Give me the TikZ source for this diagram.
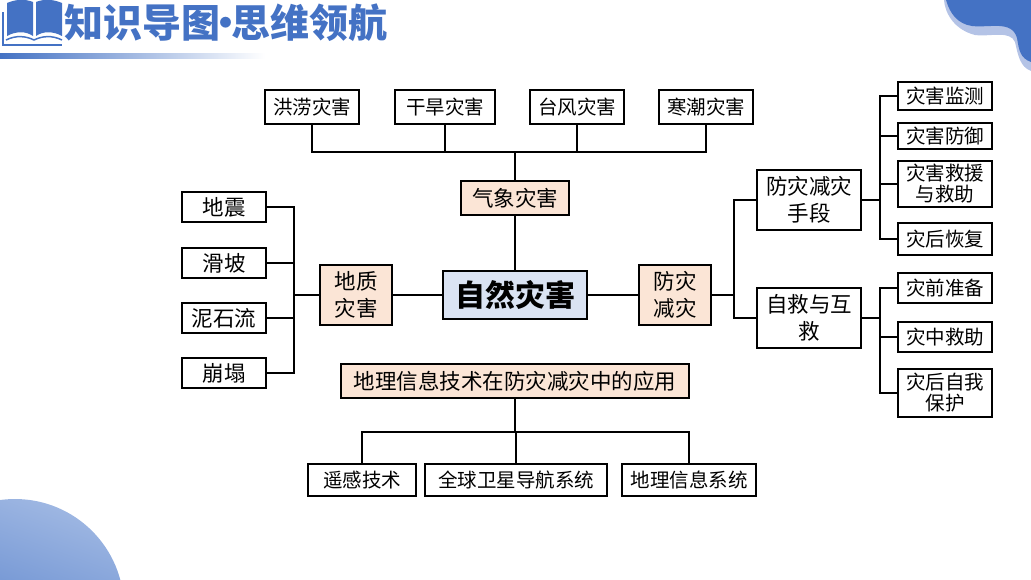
\documentclass[tikz,border=0pt]{standalone}
\usepackage{fontspec}
\setmainfont{Noto Sans CJK SC}
\definecolor{blueA}{HTML}{4472C4}
\definecolor{blueB}{HTML}{B4C3E6}
\definecolor{blueC}{HTML}{9DB6E2}
\definecolor{peach}{HTML}{FBE5D6}
\definecolor{paleblue}{HTML}{DAE3F3}
\tikzset{
	leaf/.style={draw, line width=2pt, fill=white, inner sep=0pt, align=center, font=\fontsize{19.5}{21}\selectfont},
	midbox/.style={leaf, font=\fontsize{21.5}{27}\selectfont},
	peachbox/.style={midbox, fill=peach},
	wire/.style={line width=2pt}
}
\begin{document}
\begin{tikzpicture}[x=1pt, y=-1pt]
	\useasboundingbox (0, 0) rectangle (1031, 579);
	% fundo
	\fill[blueB] (944, 0) .. controls (945, 14) and (955, 30) .. (975, 35) .. controls (990, 37) and (1010, 30) .. (1015, 42) .. controls (1018, 55) and (1020, 67) .. (1031, 71) -- (1031, 0) -- cycle;
	\fill[blueA] (946, 0) .. controls (950, 14) and (958, 24) .. (972, 26) .. controls (990, 28) and (1012, 20) .. (1017, 38) .. controls (1019, 50) and (1020, 58) .. (1031, 62) -- (1031, 0) -- cycle;
	\begin{scope}
		\clip (0, 490) rectangle (130, 579);
		\shade[left color=blueC, right color=blueA, shading angle=-20] (15, 608) circle (109);
	\end{scope}
	% titulo
	\fill[blueA] (7, 3) .. controls (16, -1) and (26, -1) .. (33, 2) -- (33, 36) .. controls (26, 31) and (16, 31) .. (7, 36) -- cycle;
	\fill[blueA] (36, 2) .. controls (43, -1) and (53, -1) .. (62, 3) -- (62, 36) .. controls (53, 31) and (43, 31) .. (36, 36) -- cycle;
	\draw[blueA, line width=1.5pt] (3, 12) -- (3, 45) -- (62, 45);
	\draw[blueA, line width=1.5pt] (6, 40) .. controls (16, 35) and (26, 36) .. (34, 40) .. controls (42, 36) and (52, 35) .. (62, 40);
	\shade[left color=blueA, right color=white] (0, 53) rectangle (265, 58);
	\node[anchor=west, inner sep=0pt, text=blueA, font=\fontsize{39}{41}\bfseries\selectfont] (titulo) at (64, 23) {知识导图\hspace{-14pt}·\hspace{-14pt}思维领航};
	% centro
	\node[draw, line width=2pt, fill=paleblue, inner sep=0pt, minimum width=144pt, minimum height=48pt, font=\fontsize{30}{32}\bfseries\selectfont] (centro) at (515, 295) {自然灾害};
	\node[peachbox, minimum width=108pt, minimum height=34pt] (qixiang) at (515, 198) {气象灾害};
	\node[peachbox, minimum width=72pt, minimum height=60pt] (dizhi) at (356, 295) {地质\\灾害};
	\node[peachbox, minimum width=72pt, minimum height=60pt] (fangzai) at (675, 295) {防灾\\减灾};
	\node[peachbox, minimum width=348pt, minimum height=34pt] (dili) at (515, 381) {地理信息技术在防灾减灾中的应用};
	\node[midbox, minimum width=104pt, minimum height=60pt] (shouduan) at (809, 200) {防灾减灾\\手段};
	\node[midbox, minimum width=104pt, minimum height=60pt] (zijiu) at (809, 318) {自救与互\\救};
	% folhas
	\foreach \nome/\cx/\cy/\lar/\alt/\txt in {
		honglao/312/107/94/34/洪涝灾害, ganhan/445/107/100/34/干旱灾害,
		taifeng/577/107/94/34/台风灾害, hanchao/706/107/94/34/寒潮灾害,
		jiance/945/96/94/28/灾害监测, fangyu/945/136/94/26/灾害防御,
		jiuyuan/945/184/94/46/灾害救援\\与救助, huifu/945/239/94/32/灾后恢复,
		zhunbei/945/288/94/30/灾前准备, jiuzhu/945/337/94/30/灾中救助,
		baohu/945/393/94/48/灾后自我\\保护,
		yaogan/362/480/108/32/遥感技术, daohang/516/480/182/32/全球卫星导航系统,
		xitong/689/480/134/32/地理信息系统} {
		\node[leaf, minimum width=\lar pt, minimum height=\alt pt] (\nome) at (\cx, \cy) {\txt};
	}
	\foreach \nome/\cy/\txt in {dizhen/207/地震, huapo/263/滑坡, nishi/318/泥石流, bengta/373/崩塌} {
		\node[midbox, minimum width=84pt, minimum height=30pt] (\nome) at (224, \cy) {\txt};
	}
	% ligacoes
	\coordinate (barraA) at (515, 152);
	\coordinate (barraB) at (515, 432);
	\coordinate (barraC) at (294, 295);
	\coordinate (barraD) at (734, 295);
	\coordinate (barraE) at (880, 200);
	\coordinate (barraF) at (880, 318);
	\draw[wire] (centro) -- (qixiang);
	\draw[wire] (centro) -- (dizhi);
	\draw[wire] (centro) -- (fangzai);
	\draw[wire] (qixiang) -- (barraA);
	\draw[wire] (dili) -- (barraB);
	\draw[wire] (dizhi) -- (barraC);
	\draw[wire] (fangzai) -- (barraD);
	\draw[wire] (shouduan) -- (barraE);
	\draw[wire] (zijiu) -- (barraF);
	\foreach \nome in {honglao, ganhan, taifeng, hanchao} {
		\draw[wire] (barraA) -| (\nome.south);
	}
	\foreach \nome in {yaogan, daohang, xitong} {
		\draw[wire] (barraB) -| (\nome.north);
	}
	\foreach \nome in {dizhen, huapo, nishi, bengta} {
		\draw[wire] (barraC) |- (\nome.east);
	}
	\foreach \nome in {shouduan, zijiu} {
		\draw[wire] (barraD) |- (\nome.west);
	}
	\foreach \nome in {jiance, fangyu, jiuyuan, huifu} {
		\draw[wire] (barraE) |- (\nome.west);
	}
	\foreach \nome in {zhunbei, jiuzhu, baohu} {
		\draw[wire] (barraF) |- (\nome.west);
	}
\end{tikzpicture}
\end{document}
